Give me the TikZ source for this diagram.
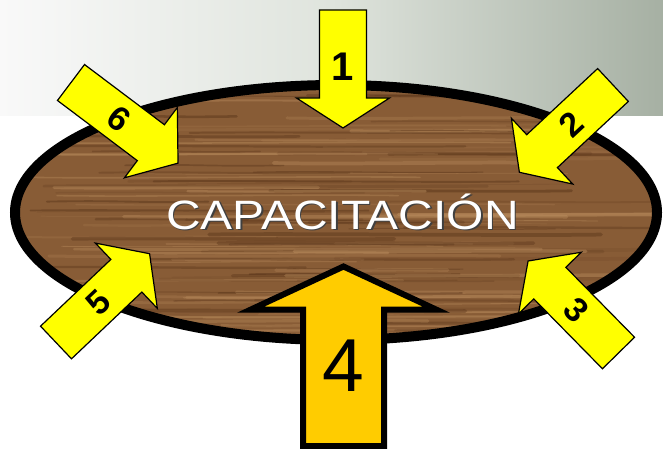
\documentclass[tikz,border=0pt]{standalone}
\usepackage{fontspec}
\setmainfont{Liberation Sans}
\usetikzlibrary{positioning}
\definecolor{bandlight}{RGB}{249,249,249}
\definecolor{bandmid}{RGB}{223,228,221}
\definecolor{banddark}{RGB}{166,176,163}
\definecolor{woodbase}{RGB}{136,92,54}
\definecolor{wooddark}{RGB}{84,48,22}
\definecolor{woodlight}{RGB}{192,146,98}
\definecolor{arrowyellow}{RGB}{255,255,0}
\definecolor{arrowgold}{RGB}{255,204,0}

\begin{document}
\begin{tikzpicture}[
  x=1pt, y=-1pt,
  yarrow/.style={fill=arrowyellow, draw=black, line width=1.2pt, line join=miter},
  bigarrow/.style={fill=arrowgold, draw=black, line width=6pt, line join=miter},
  digit/.style={inner sep=0pt, font=\fontsize{34}{34}\selectfont\bfseries},
  title/.style={inner sep=0pt, font=\fontsize{41}{41}\selectfont},
  rim/.style={draw=black, line width=10pt},
]
\useasboundingbox (0,0) rectangle (663,449);

% ---- grey band at the top ----
\shade[left color=bandlight, right color=banddark, middle color=bandmid]
  (0,0) rectangle (663,116);

% ---- wooden ellipse ----
\begin{scope}
  \clip (336,212.5) ellipse [x radius=321pt, y radius=127.5pt];
  \fill[woodbase] (0,80) rectangle (663,345);
  \pgfmathsetseed{23}
  \foreach \k in {0,...,139}{
    \pgfmathsetmacro{\yy}{82+262*rnd}
    \pgfmathsetmacro{\op}{0.1+0.35*rnd}
    \pgfmathsetmacro{\lw}{0.6+3.2*rnd}
    \pgfmathsetmacro{\xa}{10+400*rnd}
    \pgfmathsetmacro{\xb}{\xa+150+350*rnd}
    \ifodd\k
      \draw[woodlight, line width=\lw pt, opacity=\op, line cap=round]
        (\xa,\yy) .. controls (\xa+80,\yy+1.5) and (\xb-80,\yy-1.5) .. (\xb,\yy);
    \else
      \draw[wooddark, line width=\lw pt, opacity=\op, line cap=round]
        (\xa,\yy) .. controls (\xa+80,\yy-1.5) and (\xb-80,\yy+1.5) .. (\xb,\yy);
    \fi
  }
\end{scope}
\draw[rim] (336,212.5) ellipse [x radius=321pt, y radius=127.5pt];

% ---- title with shadow ----
\node[title, text=black!75] (shadow) at (344,213) {\scalebox{1.17}[1]{CAPACITACIÓN}};
\node[title, text=white] (cap) at (342.5,211.5) {\scalebox{1.17}[1]{CAPACITACIÓN}};

% ---- arrow 1 (top) ----
\begin{scope}[shift={(343,10)}, rotate=-90]
  \draw[yarrow] (0,23.5) -- (88,23.5) -- (88,46.5) -- (118,0) -- (88,-46.5)
    -- (88,-23.5) -- (0,-23.5) -- cycle;
  \node[digit, font=\fontsize{40}{40}\selectfont\bfseries] (n1) at (57,0) {1};
\end{scope}

% ---- arrow 2 (upper right) ----
\begin{scope}[shift={(613,85)}, rotate=-137]
  \draw[yarrow] (0,22.5) -- (97,22.5) -- (97,45) -- (128,0) -- (97,-45)
    -- (97,-22.5) -- (0,-22.5) -- cycle;
  \node[digit, rotate=43] (n2) at (57,0) {2};
\end{scope}

% ---- arrow 3 (lower right) ----
\begin{scope}[shift={(618.5,353)}, rotate=134.5]
  \draw[yarrow] (0,22.5) -- (98,22.5) -- (98,44) -- (129,0) -- (98,-44)
    -- (98,-22.5) -- (0,-22.5) -- cycle;
  \node[digit, rotate=-45.5] (n3) at (60,0) {3};
\end{scope}

% ---- arrow 5 (lower left) ----
\begin{scope}[shift={(56,342.5)}, rotate=43.5]
  \draw[yarrow] (0,22.5) -- (97,22.5) -- (97,45) -- (129,0) -- (97,-45)
    -- (97,-22.5) -- (0,-22.5) -- cycle;
  \node[digit, rotate=43.5] (n5) at (58,0) {5};
\end{scope}

% ---- arrow 6 (upper left) ----
\begin{scope}[shift={(71,82.5)}, rotate=-37]
  \draw[yarrow] (0,22.5) -- (100,22.5) -- (100,44) -- (134,0) -- (100,-44)
    -- (100,-22.5) -- (0,-22.5) -- cycle;
  \node[digit, rotate=-37] (n6) at (60,0) {6};
\end{scope}

% ---- big arrow 4 (bottom) ----
\draw[bigarrow] (303,446) -- (303,309.5) -- (251,309.5) -- (343.5,266.5)
  -- (436,309.5) -- (384,309.5) -- (384,446) -- cycle;
\node[inner sep=0pt, font=\fontsize{75}{75}\selectfont] (n4) at (343.5,366) {4};

\end{tikzpicture}
\end{document}
